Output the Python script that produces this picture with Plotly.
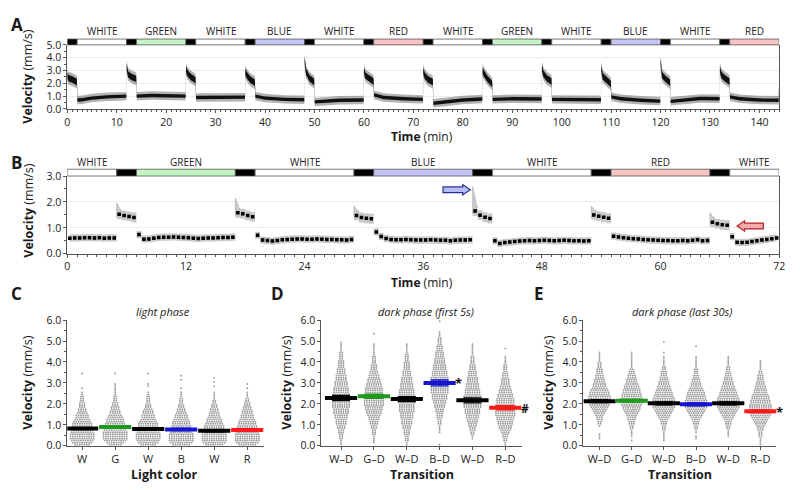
import plotly.graph_objects as go

FONT = "Open Sans"
W, H = 800, 490

# ---------------- Panel A data (time course, 144 min) ----------------
A_phase_starts = [0, 2, 12, 14, 24, 26, 36, 38, 48, 50, 60, 62, 72, 74, 84, 86, 96, 98, 108, 110, 120, 122, 132, 134]
A_phase_labels = ["DARK", "WHITE", "DARK", "GREEN", "DARK", "WHITE", "DARK", "BLUE", "DARK", "WHITE", "DARK", "RED",
                  "DARK", "WHITE", "DARK", "GREEN", "DARK", "WHITE", "DARK", "BLUE", "DARK", "WHITE", "DARK", "RED"]
A_end = 144
A_t = [0, 0.3, 1.0, 1.95,
       2.05, 3, 5, 8, 11.95,
       12.02, 12.3, 13, 13.95,
       14.05, 17, 20, 23.95,
       24.02, 24.3, 25, 25.95,
       26.05, 30, 33, 35.95,
       36.02, 36.3, 37, 37.95,
       38.05, 40, 44, 47.95,
       48.02, 48.3, 49, 49.95,
       50.05, 52, 55, 59.95,
       60.02, 60.3, 61, 61.95,
       62.05, 64, 68, 71.95,
       72.02, 72.3, 73, 73.95,
       74.05, 76, 80, 83.95,
       84.02, 84.3, 85, 85.95,
       86.05, 90, 93, 95.95,
       96.02, 96.3, 97, 97.95,
       98.05, 102, 105, 107.95,
       108.02, 108.3, 109, 109.95,
       110.05, 112, 116, 119.95,
       120.02, 120.3, 121, 121.95,
       122.05, 125, 128, 131.95,
       132.02, 132.3, 133, 133.95,
       134.05, 136, 140, 143.9, 144]
A_v = [2.6, 2.4, 2.3, 2.1,
       0.70, 0.72, 0.85, 0.95, 1.00,
       3.30, 2.70, 2.50, 2.35,
       1.00, 1.05, 1.05, 1.00,
       3.10, 2.80, 2.50, 2.25,
       0.90, 0.90, 0.90, 0.92,
       2.90, 2.65, 2.30, 2.05,
       1.00, 0.85, 0.75, 0.72,
       3.80, 2.90, 2.40, 2.10,
       0.55, 0.60, 0.68, 0.70,
       3.00, 2.60, 2.40, 2.15,
       1.10, 0.90, 0.80, 0.75,
       3.00, 2.60, 2.30, 2.10,
       0.45, 0.55, 0.70, 0.78,
       3.00, 2.75, 2.35, 1.95,
       0.75, 0.80, 0.80, 0.78,
       3.20, 2.75, 2.40, 2.15,
       0.75, 0.72, 0.75, 0.72,
       3.20, 2.55, 2.30, 1.95,
       0.95, 0.80, 0.68, 0.62,
       3.70, 2.65, 2.35, 2.05,
       0.60, 0.72, 0.82, 0.80,
       3.10, 2.65, 2.40, 2.15,
       0.95, 0.80, 0.70, 0.68, 2.0]
A_core_light, A_core_dark = 0.13, 0.25
A_fringe_light, A_fringe_dark = 0.33, 0.50

# ---------------- Panel B data (72 min, 30-s bins) ----------------
B_phase_starts = [0, 5, 7, 17, 19, 29, 31, 41, 43, 53, 55, 65, 67]
B_phase_labels = ["WHITE", "DARK", "GREEN", "DARK", "WHITE", "DARK", "BLUE", "DARK", "WHITE", "DARK", "RED", "DARK", "WHITE"]
B_end = 72
B_bin_min = 0.5
B_mean = [0.60, 0.61, 0.61, 0.62, 0.62, 0.61, 0.62, 0.60, 0.61, 0.61,
          1.52, 1.48, 1.44, 1.40,
          0.74, 0.56, 0.57, 0.60, 0.63, 0.64, 0.64, 0.65, 0.64, 0.63, 0.62, 0.60, 0.59, 0.60, 0.61, 0.61, 0.62, 0.63, 0.63, 0.64,
          1.58, 1.54, 1.48, 1.43,
          0.71, 0.53, 0.51, 0.49, 0.51, 0.54, 0.55, 0.56, 0.57, 0.57, 0.56, 0.56, 0.57, 0.56, 0.55, 0.55, 0.54, 0.54, 0.53, 0.55,
          1.48, 1.40, 1.37, 1.35,
          0.84, 0.67, 0.59, 0.55, 0.54, 0.54, 0.55, 0.54, 0.53, 0.53, 0.53, 0.54, 0.53, 0.52, 0.52, 0.50, 0.52, 0.53, 0.53, 0.54,
          1.65, 1.49, 1.41, 1.36,
          0.50, 0.40, 0.43, 0.45, 0.47, 0.49, 0.50, 0.51, 0.50, 0.51, 0.52, 0.51, 0.50, 0.51, 0.52, 0.51, 0.50, 0.50, 0.49, 0.50,
          1.50, 1.45, 1.41, 1.37,
          0.68, 0.65, 0.62, 0.60, 0.58, 0.57, 0.55, 0.54, 0.53, 0.52, 0.51, 0.51, 0.50, 0.50, 0.51, 0.50, 0.52, 0.54, 0.50, 0.51,
          1.22, 1.16, 1.12, 1.10,
          0.66, 0.44, 0.43, 0.44, 0.47, 0.50, 0.53, 0.55, 0.58, 0.61]
B_band_light, B_band_dark = 0.14, 0.19
B_onsets = [5, 17, 29, 41, 53, 65]
B_onset_peaks = [1.96, 2.15, 1.84, 2.59, 1.84, 1.59]

# ---------------- Panels C, D, E (dot plots; counts per 0.1 mm/s bin) ----------------
C_labels = ["W", "G", "W", "B", "W", "R"]
C_means = [0.82, 0.90, 0.80, 0.78, 0.72, 0.75]
C_sem = [0.05, 0.05, 0.05, 0.05, 0.05, 0.05]
C_counts = [
    [7, 9, 10, 11, 11, 11, 10, 10, 10, 9, 9, 8, 7, 6, 6, 5, 4, 4, 3, 3, 3, 2, 2, 2, 1, 1, 0, 1, 0, 0, 0, 0, 0, 0, 1],
    [6, 8, 10, 11, 11, 11, 11, 10, 10, 9, 9, 8, 8, 7, 6, 5, 5, 4, 4, 3, 3, 2, 2, 2, 1, 1, 1, 1, 1, 1, 0, 0, 0, 0, 1],
    [7, 9, 10, 11, 11, 11, 10, 10, 10, 9, 9, 8, 7, 6, 6, 5, 5, 4, 3, 3, 2, 2, 2, 2, 1, 1, 0, 0, 1, 1, 0, 0, 0, 0, 1],
    [8, 10, 11, 11, 11, 11, 10, 10, 9, 9, 8, 8, 7, 6, 6, 5, 4, 4, 3, 3, 2, 2, 2, 1, 1, 1, 0, 1, 0, 0, 0, 1, 0, 1],
    [8, 10, 11, 11, 11, 11, 10, 10, 9, 9, 8, 7, 7, 6, 5, 5, 4, 4, 3, 3, 2, 2, 1, 1, 1, 1, 0, 0, 1, 0, 1, 0, 1],
    [8, 10, 11, 11, 11, 11, 10, 10, 9, 9, 8, 8, 7, 6, 6, 5, 5, 4, 4, 3, 3, 2, 2, 1, 1, 1, 0, 1, 0, 1],
]
C_colors = ["#000000", "#1f9a1f", "#000000", "#1515d0", "#000000", "#ff1a1a"]

D_labels = ["W\u2013D", "G\u2013D", "W\u2013D", "B\u2013D", "W\u2013D", "R\u2013D"]
D_means = [2.28, 2.37, 2.23, 3.00, 2.17, 1.82]
D_sem = [0.12, 0.10, 0.12, 0.14, 0.12, 0.10]
D_counts = [
    [1, 1, 1, 2, 2, 2, 3, 3, 4, 4, 5, 5, 5, 6, 6, 7, 7, 7, 8, 8, 8, 8, 8, 8, 8, 7, 7, 7, 6, 6,
     6, 5, 5, 5, 4, 4, 4, 3, 3, 3, 3, 2, 2, 2, 2, 1, 1, 1, 1, 1],
    [0, 1, 1, 1, 1, 2, 2, 2, 3, 3, 4, 4, 5, 5, 6, 7, 7, 8, 8, 9, 9, 9, 9, 9, 9, 8, 8, 8, 7, 7,
     6, 6, 5, 5, 4, 4, 3, 3, 3, 2, 2, 2, 2, 1, 1, 1, 1, 1, 1, 0, 0, 0, 0, 1],
    [1, 1, 2, 2, 2, 3, 3, 3, 4, 4, 5, 5, 5, 6, 6, 6, 7, 7, 7, 7, 8, 8, 8, 8, 7, 7, 7, 6, 6, 6,
     5, 5, 5, 4, 4, 4, 3, 3, 3, 3, 2, 2, 2, 2, 1, 1, 1, 1, 1],
    [1, 0, 0, 0, 0, 0, 1, 1, 1, 1, 2, 2, 2, 3, 3, 3, 4, 4, 5, 5, 6, 6, 7, 7, 7, 8, 8, 8, 8, 8,
     8, 8, 8, 7, 7, 7, 6, 6, 6, 5, 5, 5, 4, 4, 4, 3, 3, 3, 2, 2, 2, 2, 1, 1, 1, 0, 0, 0, 0, 1],
    [0, 0, 0, 1, 1, 2, 2, 3, 3, 4, 4, 5, 5, 6, 6, 7, 7, 7, 8, 8, 8, 8, 8, 8, 7, 7, 7, 6, 6, 6,
     5, 5, 5, 4, 4, 4, 3, 3, 3, 2, 2, 2, 2, 1, 1, 1, 1, 1, 1],
    [1, 1, 2, 2, 3, 3, 4, 5, 6, 6, 7, 7, 8, 8, 9, 9, 9, 9, 9, 9, 8, 8, 8, 7, 7, 6, 6, 5, 5, 4,
     4, 4, 3, 3, 3, 2, 2, 2, 2, 1, 1, 1, 1, 0, 0, 0, 1],
]

E_labels = ["W\u2013D", "G\u2013D", "W\u2013D", "B\u2013D", "W\u2013D", "R\u2013D"]
E_means = [2.13, 2.15, 2.03, 1.98, 2.03, 1.65]
E_sem = [0.07, 0.07, 0.07, 0.07, 0.07, 0.06]
E_counts = [
    [0, 0, 0, 1, 1, 1, 0, 0, 0, 1, 2, 2, 3, 3, 4, 5, 6, 7, 8, 9, 10, 10, 10, 10, 9, 9, 8, 7, 6, 6,
     5, 5, 4, 4, 3, 3, 3, 2, 2, 2, 1, 1, 1, 1, 1],
    [0, 0, 1, 0, 1, 1, 1, 1, 2, 2, 3, 3, 4, 4, 5, 6, 7, 8, 8, 9, 10, 10, 10, 9, 9, 8, 8, 7, 7, 6,
     5, 5, 4, 4, 3, 3, 2, 1, 1, 1, 1, 1, 1, 1, 1],
    [0, 0, 1, 1, 1, 1, 1, 2, 2, 2, 3, 3, 4, 5, 6, 7, 8, 9, 10, 10, 10, 10, 10, 9, 8, 8, 7, 6, 6, 5,
     5, 4, 4, 3, 3, 3, 2, 2, 1, 1, 1, 1, 1, 0, 1, 0, 0, 0, 0, 1],
    [0, 0, 0, 1, 1, 0, 1, 1, 2, 2, 3, 3, 4, 5, 6, 7, 8, 9, 10, 10, 10, 10, 9, 9, 8, 8, 7, 6, 5, 5,
     4, 4, 3, 3, 2, 2, 2, 1, 1, 1, 1, 1, 1, 0, 0, 0, 0, 1],
    [0, 0, 0, 0, 1, 1, 1, 1, 2, 2, 3, 3, 4, 5, 6, 7, 8, 9, 10, 10, 10, 10, 10, 9, 8, 8, 7, 6, 6, 5,
     5, 4, 4, 3, 3, 2, 2, 2, 1, 1, 1, 1, 1],
    [1, 1, 1, 1, 2, 2, 2, 3, 3, 4, 5, 6, 7, 8, 9, 10, 10, 10, 10, 10, 9, 9, 8, 8, 7, 6, 6, 5, 5, 4,
     4, 3, 3, 3, 2, 2, 1, 1, 1, 1, 1],
]
DOT_BIN = 0.1

PHASE_COLORS = {"DARK": "#000000", "WHITE": "#ffffff", "GREEN": "#c4f4c4", "BLUE": "#c4c4f4", "RED": "#f8c4c4"}

# ---------------- geometry helpers ----------------
def fx(p):
    return p / W

def fy(p):
    return 1 - p / H

fig = go.Figure()

def phase_of(t, starts, labels):
    lab = labels[0]
    for s, l in zip(starts, labels):
        if t >= s:
            lab = l
    return lab

# ---------------- Panel A traces ----------------
a_dark = [phase_of(t, A_phase_starts, A_phase_labels) == "DARK" or t >= A_end for t in A_t]
a_fr = [A_fringe_dark if d else A_fringe_light for d in a_dark]
a_co = [A_core_dark if d else A_core_light for d in a_dark]
fig.add_trace(go.Scatter(x=A_t, y=[v - w for v, w in zip(A_v, a_fr)], mode="lines", line=dict(width=0),
                         xaxis="x", yaxis="y", hoverinfo="skip"))
fig.add_trace(go.Scatter(x=A_t, y=[v + w for v, w in zip(A_v, a_fr)], mode="lines", line=dict(width=0),
                         fill="tonexty", fillcolor="rgba(0,0,0,0.30)", xaxis="x", yaxis="y", hoverinfo="skip"))
fig.add_trace(go.Scatter(x=A_t, y=[v - w for v, w in zip(A_v, a_co)], mode="lines", line=dict(width=0),
                         xaxis="x", yaxis="y", hoverinfo="skip"))
fig.add_trace(go.Scatter(x=A_t, y=[v + w for v, w in zip(A_v, a_co)], mode="lines", line=dict(width=0),
                         fill="tonexty", fillcolor="#111111", xaxis="x", yaxis="y", hoverinfo="skip"))

# ---------------- Panel B traces ----------------
b_t = [B_bin_min * (i + 0.5) for i in range(len(B_mean))]
b_dark = [phase_of(t, B_phase_starts, B_phase_labels) == "DARK" for t in b_t]
b_w = [B_band_dark if d else B_band_light for d in b_dark]
fig.add_trace(go.Scatter(x=b_t, y=[v - w for v, w in zip(B_mean, b_w)], mode="lines",
                         line=dict(width=0, shape="hvh"), xaxis="x2", yaxis="y2", hoverinfo="skip"))
fig.add_trace(go.Scatter(x=b_t, y=[v + w for v, w in zip(B_mean, b_w)], mode="lines",
                         line=dict(width=0, shape="hvh"), fill="tonexty", fillcolor="#c9c9c9",
                         xaxis="x2", yaxis="y2", hoverinfo="skip"))
for t0, pk in zip(B_onsets, B_onset_peaks):
    i = b_t.index(t0 + B_bin_min / 2)
    base = B_mean[i]
    fig.add_trace(go.Scatter(x=[t0, t0, t0 + 0.45, t0], y=[base - 0.1, pk, base + 0.12, base - 0.1],
                             mode="lines", line=dict(width=0.6, color="#a8a8a8"), fill="toself",
                             fillcolor="#cccccc", xaxis="x2", yaxis="y2", hoverinfo="skip"))
fig.add_trace(go.Scatter(x=b_t, y=B_mean, mode="markers",
                         marker=dict(symbol="square", size=3.5, color="#000000"),
                         error_y=dict(type="constant", value=0.03, width=1.5, thickness=0.8, color="#000000"),
                         xaxis="x2", yaxis="y2", hoverinfo="skip"))

# ---------------- Panels C/D/E ----------------
def add_dots(counts, means, sems, colors, xa, ya, px_per_unit):
    dx = 2.35 / px_per_unit
    xs, ys = [], []
    for gi, cnt in enumerate(counts):
        for bi, n in enumerate(cnt):
            yv = (bi + 0.5) * DOT_BIN
            for k in range(n):
                xs.append(gi + (k - (n - 1) / 2) * dx)
                ys.append(yv)
    fig.add_trace(go.Scatter(x=xs, y=ys, mode="markers",
                             marker=dict(size=1.9, color="#9c9c9c", line=dict(width=0)),
                             xaxis=xa, yaxis=ya, hoverinfo="skip"))
    for gi, (m, s, c) in enumerate(zip(means, sems, colors)):
        fig.add_trace(go.Scatter(x=[gi], y=[m], mode="markers",
                                 marker=dict(symbol="line-ew", size=23, line=dict(width=4, color=c)),
                                 error_y=dict(type="constant", value=s, width=9, thickness=1.3, color=c),
                                 xaxis=xa, yaxis=ya, hoverinfo="skip"))

add_dots(C_counts, C_means, C_sem, C_colors, "x3", "y3", 33.4)
add_dots(D_counts, D_means, D_sem, C_colors, "x4", "y4", 33.2)
add_dots(E_counts, E_means, E_sem, C_colors, "x5", "y5", 32.6)

# ---------------- axes ----------------
tickfont = dict(family=FONT, size=10.5, color="#222222")
base_ax = dict(showline=True, linecolor="#555555", linewidth=1, ticks="outside", ticklen=3,
               tickcolor="#555555", tickfont=tickfont, zeroline=False, showgrid=False, fixedrange=True)

layout_axes = {}
layout_axes["xaxis"] = dict(base_ax, domain=[fx(65), fx(785)], range=[0, A_end], anchor="y",
                            tickvals=list(range(0, 141, 10)),
                            minor=dict(dtick=1, ticklen=2, ticks="outside", tickcolor="#555555"))
layout_axes["yaxis"] = dict(base_ax, domain=[fy(105), fy(39)], range=[0, 5.0], anchor="x",
                            dtick=1, tickformat=".1f", mirror=True, showgrid=True, gridcolor="#eeeeee",
                            minor=dict(dtick=0.5, ticklen=2, ticks="outside", tickcolor="#555555"))
layout_axes["xaxis2"] = dict(base_ax, domain=[fx(65), fx(785)], range=[0, B_end], anchor="y2",
                             tickvals=list(range(0, 73, 12)),
                             minor=dict(dtick=1, ticklen=2, ticks="outside", tickcolor="#555555"))
layout_axes["yaxis2"] = dict(base_ax, domain=[fy(254), fy(174)], range=[0, 3.0], anchor="x2",
                             dtick=1, tickformat=".1f", mirror=True, showgrid=True, gridcolor="#eeeeee",
                             minor=dict(dtick=0.5, ticklen=2, ticks="outside", tickcolor="#555555"))
cat_specs = [("xaxis3", "yaxis3", "y3", "x3", 65, 263.7, [-0.45, 5.5], C_labels),
             ("xaxis4", "yaxis4", "y4", "x4", 322, 524.6, [-0.6, 5.5], D_labels),
             ("xaxis5", "yaxis5", "y5", "x5", 587, 782.3, [-0.5, 5.5], E_labels)]
for xk, yk, yan, xan, l, r, rng, labs in cat_specs:
    layout_axes[xk] = dict(base_ax, domain=[fx(l), fx(r)], range=rng, anchor=yan, ticklen=3,
                           tickvals=list(range(6)), ticktext=labs,
                           tickfont=dict(family=FONT, size=11, color="#222222"))
    layout_axes[yk] = dict(base_ax, domain=[fy(451.7), fy(322.3)], range=[0, 6.0], anchor=xan,
                           dtick=1, tickformat=".1f",
                           minor=dict(dtick=0.5, ticklen=2, ticks="outside", tickcolor="#555555"))

# ---------------- shapes: light bars & arrows ----------------
shapes = []
annotations = []

def light_bar(starts, labels, end, xref, y0p, y1p, label_yp):
    bounds = starts + [end]
    for i, lab in enumerate(labels):
        shapes.append(dict(type="rect", xref=xref, yref="paper", x0=bounds[i], x1=bounds[i + 1],
                           y0=fy(y1p), y1=fy(y0p), fillcolor=PHASE_COLORS[lab],
                           line=dict(color="#555555", width=0.8), layer="above"))
        if lab != "DARK":
            annotations.append(dict(xref=xref, yref="paper", x=(bounds[i] + bounds[i + 1]) / 2, y=fy(label_yp),
                                    text=lab, showarrow=False, xanchor="center", yanchor="middle",
                                    font=dict(family=FONT, size=10, color="#222222")))

light_bar(A_phase_starts, A_phase_labels, A_end, "x", 33, 39, 25)
light_bar(B_phase_starts, B_phase_labels, B_end, "x2", 167, 174, 160)

def arrow_path(x_tail, x_head_base, x_tip, yc, body, head):
    return (f"M {x_tail},{yc - body} L {x_head_base},{yc - body} L {x_head_base},{yc - head} "
            f"L {x_tip},{yc} L {x_head_base},{yc + head} L {x_head_base},{yc + body} L {x_tail},{yc + body} Z")

BLUE_ARROW = (38.0, 40.0, 40.75, 2.47)
RED_ARROW = (70.4, 68.5, 67.75, 1.07)
shapes.append(dict(type="path", xref="x2", yref="y2", path=arrow_path(*BLUE_ARROW, 0.11, 0.2),
                   fillcolor="#b8bcf4", line=dict(color="#2a3090", width=1.2)))
shapes.append(dict(type="path", xref="x2", yref="y2", path=arrow_path(*RED_ARROW, 0.11, 0.2),
                   fillcolor="#f6aaaa", line=dict(color="#b02020", width=1.2)))

# ---------------- text annotations ----------------
def ann(x, y, text, size=12, angle=0, **kw):
    d = dict(xref="paper", yref="paper", x=fx(x), y=fy(y), text=text, showarrow=False, textangle=angle,
             font=dict(family=FONT, size=size, color="#1a1a1a"), xanchor="center", yanchor="middle")
    d.update(kw)
    annotations.append(d)

ann(14, 18, "<b>A</b>", 17)
ann(14, 160, "<b>B</b>", 17)
ann(14, 295, "<b>C</b>", 17)
ann(278, 295, "<b>D</b>", 17)
ann(542, 295, "<b>E</b>", 17)

ann(25, 72, "<b>Velocity</b> (mm/s)", 12.5, -90)
ann(25, 210, "<b>Velocity</b> (mm/s)", 12.5, -90)
ann(25, 387, "<b>Velocity</b> (mm/s)", 12.5, -90)
ann(287, 387, "<b>Velocity</b> (mm/s)", 12.5, -90)
ann(552, 387, "<b>Velocity</b> (mm/s)", 12.5, -90)

ann(424, 133.5, "<b>Time</b> (min)", 12)
ann(424, 283.5, "<b>Time</b> (min)", 12)
ann(163, 481, "<b>Light color</b>", 12.5)
ann(424, 481, "<b>Transition</b>", 12.5)
ann(685, 481, "<b>Transition</b>", 12.5)

ann(162, 313, "<i>light phase</i>", 11)
ann(428, 313, "<i>dark phase (first 5s)</i>", 11)
ann(687, 313, "<i>dark phase (last 30s)</i>", 11)

annotations.append(dict(xref="x4", yref="y4", x=3.42, y=3.0, text="<b>*</b>", showarrow=False,
                        font=dict(family=FONT, size=13, color="#111"), xanchor="left", yanchor="middle"))
annotations.append(dict(xref="x4", yref="y4", x=5.42, y=1.8, text="<b>#</b>", showarrow=False,
                        font=dict(family=FONT, size=12, color="#111"), xanchor="left", yanchor="middle"))
annotations.append(dict(xref="x5", yref="y5", x=5.42, y=1.62, text="<b>*</b>", showarrow=False,
                        font=dict(family=FONT, size=13, color="#111"), xanchor="left", yanchor="middle"))

fig.update_layout(width=W, height=H, margin=dict(l=0, r=0, t=0, b=0), showlegend=False,
                  paper_bgcolor="white", plot_bgcolor="white", font=dict(family=FONT),
                  shapes=shapes, annotations=annotations, **layout_axes)

fig.write_html("out.html", config={"displayModeBar": False},
               post_script="document.body.style.margin='0px';")
